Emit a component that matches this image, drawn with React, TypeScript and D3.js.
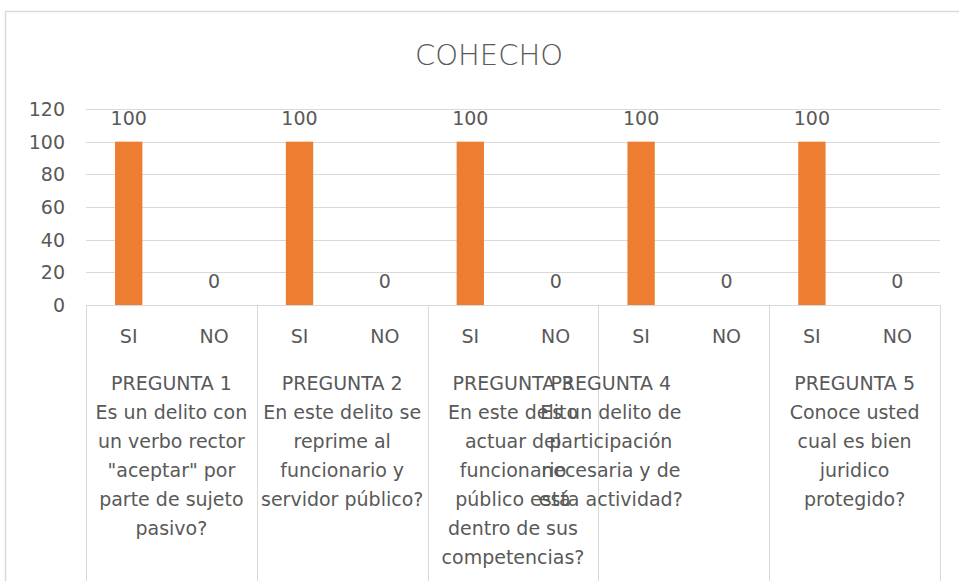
import React from 'react';
import * as d3 from 'd3';

// datos del grafico COHECHO
const preguntas = ['PREGUNTA 1', 'PREGUNTA 2', 'PREGUNTA 3', 'PREGUNTA 4', 'PREGUNTA 5'];
const respuestas = ['SI', 'NO'];
const valoresSi = [100, 100, 100, 100, 100];
const valoresNo = [0, 0, 0, 0, 0];
const yTicks = [0, 20, 40, 60, 80, 100, 120];
const textoPreguntas = [
  ['Es un delito con', 'un verbo rector', '"aceptar" por', 'parte de sujeto', 'pasivo?'],
  ['En este delito se', 'reprime al', 'funcionario y', 'servidor público?'],
  ['En este delito', 'actuar del', 'funcionario', 'público está', 'dentro de sus', 'competencias?'],
  ['Es un delito de', 'participación', 'necesaria y de', 'esta actividad?'],
  ['Conoce usted', 'cual es bien', 'juridico', 'protegido?'],
];

const W = 959;
const H = 581;
const FONT = '"DejaVu Sans", sans-serif';
const TXT = '#595959';
const GRID = '#d9d9d9';
const BAR = '#ed7d31';

const App = () => {
  const left = 86, right = 940, top = 109, bottom = 305;

  const x0 = d3.scaleBand<string>().domain(preguntas).range([left, right]).padding(0);
  const x1 = d3.scaleBand<string>().domain(respuestas).range([0, x0.bandwidth()]).padding(0);
  const y = d3.scaleLinear().domain([0, 120]).range([bottom, top]);
  const barW = x1.bandwidth() * 0.32;

  const values = [valoresSi, valoresNo];

  return (
    <svg width={W} height={H} style={{ position: 'absolute', left: 0, top: 0 }} fontFamily={FONT}>
      <rect x={0} y={0} width={W} height={H} fill="#fff" />
      {/* borde del area del grafico */}
      <path d={`M5.5,${H} V11.5 H${W}`} fill="none" stroke={GRID} strokeWidth={1.5} />

      <text x={489} y={65} textAnchor="middle" fontSize={29} fill={TXT} fontWeight={300}>
        COHECHO
      </text>

      {/* grilla y eje Y */}
      {yTicks.map(t => (
        <g key={t}>
          <line x1={left} x2={right} y1={Math.round(y(t)) + 0.5} y2={Math.round(y(t)) + 0.5} stroke={GRID} />
          <text x={65} y={y(t) + 7} textAnchor="end" fontSize={19} fill={TXT}>{t}</text>
        </g>
      ))}

      {/* divisiones de categorias */}
      {[...preguntas.map(p => x0(p) as number), right].map((xv, i) => (
        <line key={i} x1={Math.round(xv) + 0.5} x2={Math.round(xv) + 0.5} y1={bottom} y2={H} stroke={GRID} />
      ))}

      {preguntas.map((p, i) => {
        const bx = x0(p) as number;
        const cx = bx + x0.bandwidth() / 2;
        // Excel desplaza la etiqueta de la pregunta 4
        const shift = i === 3 ? -73 : 0;
        return (
          <g key={p}>
            {respuestas.map((r, j) => {
              const v = values[j][i];
              const sx = bx + (x1(r) as number) + x1.bandwidth() / 2;
              return (
                <g key={r}>
                  {v > 0 && (
                    <rect x={sx - barW / 2} y={y(v)} width={barW} height={y(0) - y(v)} fill={BAR} />
                  )}
                  <text x={sx} y={y(v) - 17} textAnchor="middle" fontSize={19} fill={TXT}>{v}</text>
                  <text x={sx} y={343} textAnchor="middle" fontSize={19} fill={TXT}>{r}</text>
                </g>
              );
            })}
            {[p, ...textoPreguntas[i]].map((line, k) => (
              <text key={k} x={cx + shift} y={390 + k * 29} textAnchor="middle" fontSize={19} fill={TXT}>
                {line}
              </text>
            ))}
          </g>
        );
      })}
    </svg>
  );
};

export default App;
